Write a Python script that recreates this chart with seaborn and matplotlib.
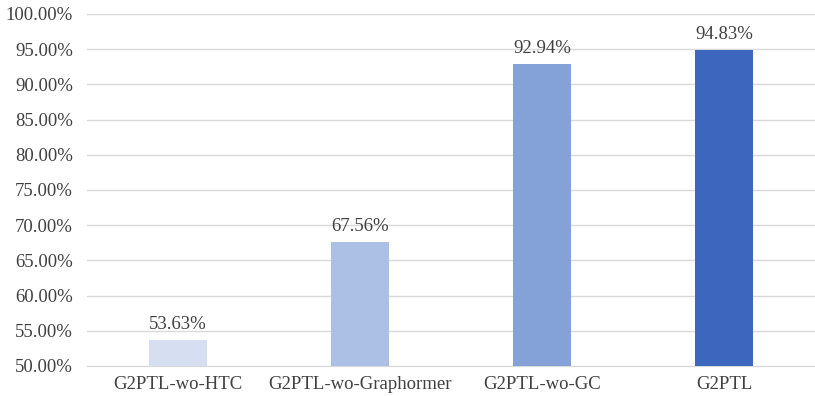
import numpy as np
import pandas as pd
import seaborn as sns
import matplotlib.pyplot as plt
from matplotlib.ticker import FuncFormatter

models = ['G2PTL-wo-HTC', 'G2PTL-wo-Graphormer', 'G2PTL-wo-GC', 'G2PTL']
accuracy = [53.63, 67.56, 92.94, 94.83]
bar_colors = ['#D6DFF2', '#ABC0E4', '#84A2D8', '#3D67BE']

df = pd.DataFrame({'model': models, 'acc': accuracy})

sns.set_style('white')
plt.rcParams['font.family'] = ['Liberation Serif', 'DejaVu Serif']
text_col = '#404040'

fig = plt.figure(figsize=(8.15, 3.96), dpi=100)
ax = fig.add_axes([87 / 815, 30 / 396, 728 / 815, 352 / 396])

sns.barplot(data=df, x='model', y='acc', hue='model', palette=bar_colors,
            saturation=1, width=0.32, legend=False, ax=ax, zorder=3,
            edgecolor='none')

ax.set_ylim(50, 100)
ax.set_yticks(np.arange(50, 100.1, 5))
ax.yaxis.set_major_formatter(FuncFormatter(lambda v, p: f'{v:.2f}%'))
ax.grid(axis='y', color='#D9D9D9', linewidth=1, zorder=0)
ax.set_xlim(-0.5, 3.5)
ax.set_xlabel('')
ax.set_ylabel('')
for s in ['top', 'right', 'left']:
    ax.spines[s].set_visible(False)
ax.spines['bottom'].set_color('#D9D9D9')
ax.tick_params(axis='both', length=0, labelsize=13.5, colors=text_col)
ax.tick_params(axis='y', pad=10)
ax.tick_params(axis='x', pad=7)

for i, v in enumerate(accuracy):
    ax.text(i, v + 1.0, f'{v:.2f}%', ha='center', va='bottom',
            fontsize=13.5, color=text_col)

fig.savefig('out.png', dpi=100)
